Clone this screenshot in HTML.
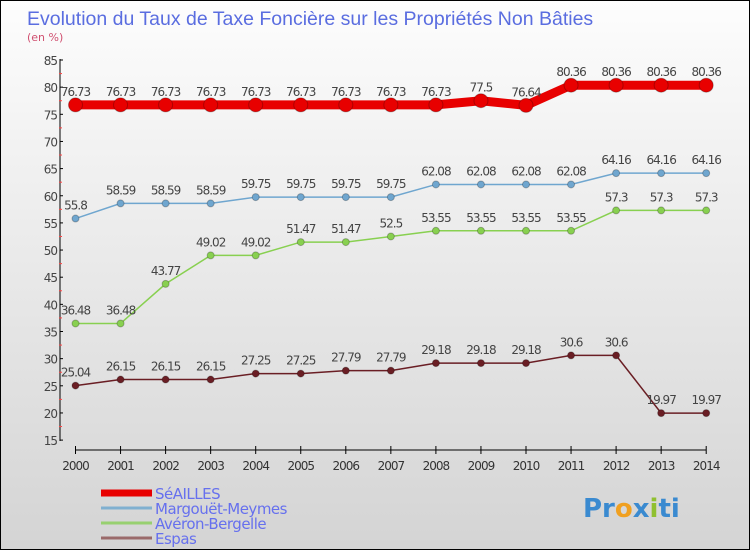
<!DOCTYPE html>
<html><head><meta charset="utf-8"><style>
body{margin:0}
#c{width:748px;height:548px;border:1px solid #000;background:linear-gradient(#fdfdfd,#d4d4d4);position:relative;font-family:"DejaVu Sans","Liberation Sans",sans-serif}
</style></head><body>
<div id="c">
<svg id="s" width="748" height="548"></svg>
</div>
<script>
const years=[2000,2001,2002,2003,2004,2005,2006,2007,2008,2009,2010,2011,2012,2013,2014];
const seailles=[76.73,76.73,76.73,76.73,76.73,76.73,76.73,76.73,76.73,77.5,76.64,80.36,80.36,80.36,80.36];
const margouet=[55.8,58.59,58.59,58.59,59.75,59.75,59.75,59.75,62.08,62.08,62.08,62.08,64.16,64.16,64.16];
const averon=[36.48,36.48,43.77,49.02,49.02,51.47,51.47,52.5,53.55,53.55,53.55,53.55,57.3,57.3,57.3];
const espas=[25.04,26.15,26.15,26.15,27.25,27.25,27.79,27.79,29.18,29.18,29.18,30.6,30.6,19.97,19.97];
const yTicks=[15,20,25,30,35,40,45,50,55,60,65,70,75,80,85];
const ns="http://www.w3.org/2000/svg",s=document.getElementById('s');
const X=i=>74.5+i*45.05, Y=v=>59+(85-v)*5.43;
function el(t,a,txt){const e=document.createElementNS(ns,t);for(const k in a)e.setAttribute(k,a[k]);if(txt!==undefined)e.textContent=txt;s.appendChild(e);return e;}
let t=el('text',{x:26,y:24,'font-size':19.5,fill:'#5a6de0','font-family':'Liberation Sans, sans-serif'},'Evolution du Taux de Taxe Foncière sur les Propriétés Non Bâties');


t=el('text',{x:26,y:40,'font-size':11,fill:'#d05070'},'(en %)');


let a=el('line',{x1:59,y1:58,x2:59,y2:440,stroke:'#000'});


yTicks.forEach(v=>{el('line',{x1:59,x2:62,y1:Y(v),y2:Y(v),stroke:'#000'});
 if(v<85)el('line',{x1:58,x2:61,y1:Y(v+2.5),y2:Y(v+2.5),stroke:'#f44'});
 const l=el('text',{x:56,y:Y(v)+5,'font-size':12,fill:'#444','text-anchor':'end','letter-spacing':'-1'},v);
 
 });
a=el('line',{x1:74.5,y1:449,x2:X(14),y2:449,stroke:'#000'});


years.forEach((y,i)=>{el('line',{x1:X(i),x2:X(i),y1:445,y2:453,stroke:'#000'});
 const l=el('text',{x:X(i),y:469,'font-size':12,fill:'#333','text-anchor':'middle','letter-spacing':'-1'},y);
 
 });
function series(d,col,w,r,name){
 const p=el('polyline',{points:d.map((v,i)=>X(i)+','+Y(v)).join(' '),fill:'none',stroke:col,'stroke-width':w});
 
 
 d.forEach((v,i)=>{const c=el('circle',{cx:X(i),cy:Y(v),r:r,fill:col,stroke:'rgba(0,0,0,0.25)'});
  
  
  const l=el('text',{x:X(i),y:Y(v)-9,'font-size':12,fill:'#444','text-anchor':'middle','letter-spacing':'-1'},String(v));
  
  });
}
series(seailles,'#e80000',9,7,'seailles');
series(margouet,'#6fa6cf',1.5,3.5,'margouet');
series(averon,'#88d050',1.5,3.5,'averon');
series(espas,'#6a1e24',1.5,3.5,'espas');
const leg=[['SéAILLES','#e80000',7],['Margouët-Meymes','#80b0d0',3],['Avéron-Bergelle','#98d070',3],['Espas','#9a6a6a',3]];
leg.forEach((g,i)=>{const y=492+i*15;
 const l=el('line',{x1:100,x2:151,y1:y,y2:y,stroke:g[1],'stroke-width':g[2]});
 
 
 const tx=el('text',{x:154,y:y+6,'font-size':15,fill:'#6670ee','letter-spacing':'-0.5'},g[0]);
 
 });
const logo=el('text',{x:582,y:516,'font-size':26,'font-weight':'bold',fill:'#3a8ad0'},'');


[['Pr','#3a8ad0'],['o','#f0a020'],['x','#3a8ad0'],['i','#90c030'],['ti','#3a8ad0']].forEach(p=>{const sp=document.createElementNS(ns,'tspan');sp.setAttribute('fill',p[1]);sp.textContent=p[0];logo.appendChild(sp);});
</script>
</body></html>
